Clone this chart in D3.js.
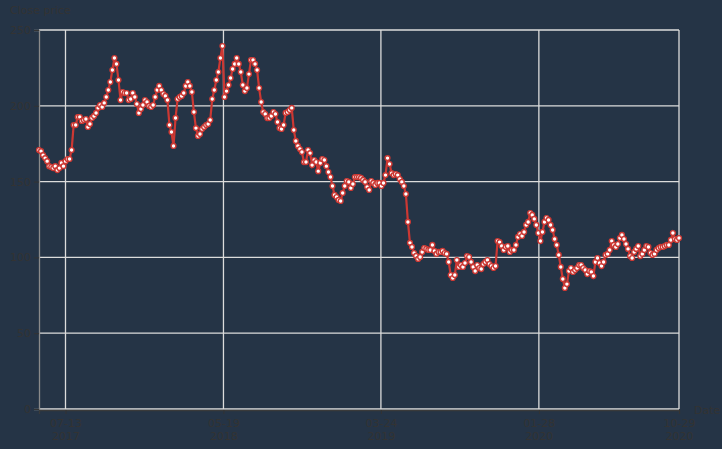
<!DOCTYPE html>
<html><head><meta charset="utf-8">
<script src="https://cdn.jsdelivr.net/npm/d3@7/dist/d3.min.js"></script>
<style>
html,body{margin:0;padding:0;background:#253446;}
svg{display:block;}
text{font-family:"DejaVu Sans",sans-serif;}
</style></head>
<body>
<script>
// Data: close price sampled every 4 days starting 2017-05-22
const startDate = "2017-05-22";
const stepDays = 4;
const closePrices = [
170.8,170.1,167.4,165.5,163.5,160.2,159.6,158.9,160.2,157.6,
158.9,162.3,160.2,163.5,164.9,164.9,170.8,187.3,187.3,192.6,
192.6,190.0,190.6,191.3,186.0,188.0,192.0,193.3,195.3,198.6,
200.5,199.2,201.9,205.8,210.4,215.7,223.6,231.5,227.6,217.0,
203.8,209.1,208.4,208.4,203.8,204.5,208.4,205.8,201.2,195.3,
197.9,200.5,203.8,202.5,199.9,199.2,200.5,205.8,210.4,213.1,
210.4,207.8,206.5,203.8,187.3,182.7,173.5,192.0,204.5,205.8,
206.5,208.4,213.1,215.7,213.1,209.1,195.9,185.3,180.1,181.4,
184.7,186.0,187.3,188.0,190.6,204.5,210.4,217.0,222.3,231.5,
239.4,205.8,209.7,213.7,218.3,224.3,227.6,231.5,227.6,222.3,
213.7,209.7,211.7,220.9,230.2,230.2,227.6,223.6,211.7,202.5,
195.9,194.6,191.9,191.9,193.3,195.9,194.6,189.3,185.3,184.7,
187.3,195.3,195.9,197.2,198.6,184.0,176.8,173.5,171.5,169.5,
162.9,162.9,170.8,168.8,160.9,164.2,162.9,156.9,162.3,164.9,
164.2,160.2,156.3,153.0,147.1,141.2,139.8,137.9,137.2,142.5,
147.1,150.4,149.8,145.8,148.4,153.0,153.0,153.0,152.4,151.1,
149.8,146.4,144.5,150.4,149.1,147.8,149.1,149.1,147.1,149.1,
154.3,165.5,161.6,155.6,154.3,155.0,154.3,151.7,149.8,147.1,
141.8,123.4,109.6,106.9,102.9,101.0,99.0,100.3,103.6,106.2,
105.6,104.9,104.9,108.2,104.3,102.3,103.6,103.6,104.3,102.9,
102.3,97.0,88.4,86.4,88.4,98.3,93.7,95.0,93.7,96.3,
100.9,100.3,97.0,93.7,91.0,95.0,93.0,92.3,95.6,97.0,
98.3,95.6,94.3,93.0,94.3,110.8,110.1,107.5,104.9,106.9,
107.5,103.6,104.9,104.9,108.2,113.5,115.4,114.1,116.8,121.4,
123.4,129.3,128.0,125.4,121.4,116.1,110.8,116.8,123.4,126.0,
124.7,121.4,118.1,112.1,108.2,101.6,93.7,85.8,79.8,82.4,
91.0,93.0,90.4,91.7,93.0,95.0,95.0,93.0,91.7,89.0,
91.0,90.4,87.7,97.0,99.6,96.3,94.3,97.0,101.6,102.3,
104.9,110.8,108.2,106.9,108.8,112.8,114.8,112.1,108.8,105.6,
100.9,99.6,103.6,105.6,107.5,100.9,102.3,104.9,107.5,106.9,
102.9,101.6,102.3,104.9,106.2,106.9,106.9,107.5,108.2,108.2,
111.5,116.1,112.1,111.5,112.8
];
const endDate = "2020-10-29";
const yTicks = [0, 50, 100, 150, 200, 250];
const xTickDates = ["2017-07-13", "2018-05-19", "2019-03-24", "2020-01-28", "2020-10-29"];
const yLabel = "Close price";
const xLabel = "Date";

const W = 722, H = 449;
const M = {left: 39, right: 722 - 679, top: 30, bottom: 449 - 409};
const parse = d3.timeParse("%Y-%m-%d");
const t0 = parse(startDate);
const data = closePrices.map((v, i) => ({date: d3.timeDay.offset(t0, i * stepDays), value: v}));

const svg = d3.select("body").append("svg").attr("width", W).attr("height", H);
svg.append("rect").attr("width", W).attr("height", H).attr("fill", "#253446");

const x = d3.scaleTime().domain([t0, parse(endDate)]).range([M.left, W - M.right]);
const y = d3.scaleLinear().domain([0, 250]).range([H - M.bottom, M.top]);

const textCol = "#333333";
const gridCol = "#dcdcdc";

// gridlines
svg.append("g").selectAll("line.h").data(yTicks).join("line")
  .attr("x1", M.left).attr("x2", W - M.right)
  .attr("y1", d => y(d)).attr("y2", d => y(d))
  .attr("stroke", gridCol).attr("stroke-width", 1.3);
svg.append("g").selectAll("line.v").data(xTickDates.map(parse)).join("line")
  .attr("x1", d => x(d)).attr("x2", d => x(d))
  .attr("y1", M.top).attr("y2", H - M.bottom)
  .attr("stroke", gridCol).attr("stroke-width", 1.3);

// y axis
const yAxis = svg.append("g").attr("transform", `translate(${M.left},0)`)
  .call(d3.axisLeft(y).tickValues(yTicks).tickSize(5).tickPadding(3));
yAxis.select(".domain").attr("stroke", "#8a8a8a").attr("stroke-width", 1.3);
yAxis.selectAll(".tick line").attr("stroke", textCol);
yAxis.selectAll(".tick text").attr("fill", textCol).attr("font-size", 11).attr("font-family", "DejaVu Sans, sans-serif");

// x axis
const xAxis = svg.append("g").attr("transform", `translate(0,${H - M.bottom + 1})`)
  .call(d3.axisBottom(x).tickValues(xTickDates.map(parse)).tickSize(4).tickFormat(""));
xAxis.select(".domain").attr("stroke", "#3a3a3a").attr("stroke-width", 1.3);
xAxis.selectAll(".tick line").attr("stroke", textCol);
const fmtMD = d3.timeFormat("%m-%d"), fmtY = d3.timeFormat("%Y");
xAxis.selectAll(".tick").each(function(d) {
  const g = d3.select(this);
  const t = g.append("text").attr("fill", textCol).attr("font-size", 11)
    .attr("text-anchor", "middle").attr("font-family", "DejaVu Sans, sans-serif");
  t.append("tspan").attr("x", 0).attr("y", 17).text(fmtMD(d));
  t.append("tspan").attr("x", 0).attr("y", 30).text(fmtY(d));
});

// axis titles
svg.append("text").attr("x", 10).attr("y", 14).attr("fill", textCol).attr("font-size", 11).text(yLabel);
svg.append("text").attr("x", 694).attr("y", 414).attr("fill", textCol).attr("font-size", 11).text(xLabel);

// line
const red = "#cc3833";
svg.append("path").datum(data)
  .attr("fill", "none").attr("stroke", red).attr("stroke-width", 2.2)
  .attr("d", d3.line().x(d => x(d.date)).y(d => y(d.value)));
svg.append("g").selectAll("circle").data(data).join("circle")
  .attr("cx", d => x(d.date)).attr("cy", d => y(d.value)).attr("r", 2.4)
  .attr("fill", "#ffffff").attr("stroke", red).attr("stroke-width", 1.4);
</script>
</body></html>
